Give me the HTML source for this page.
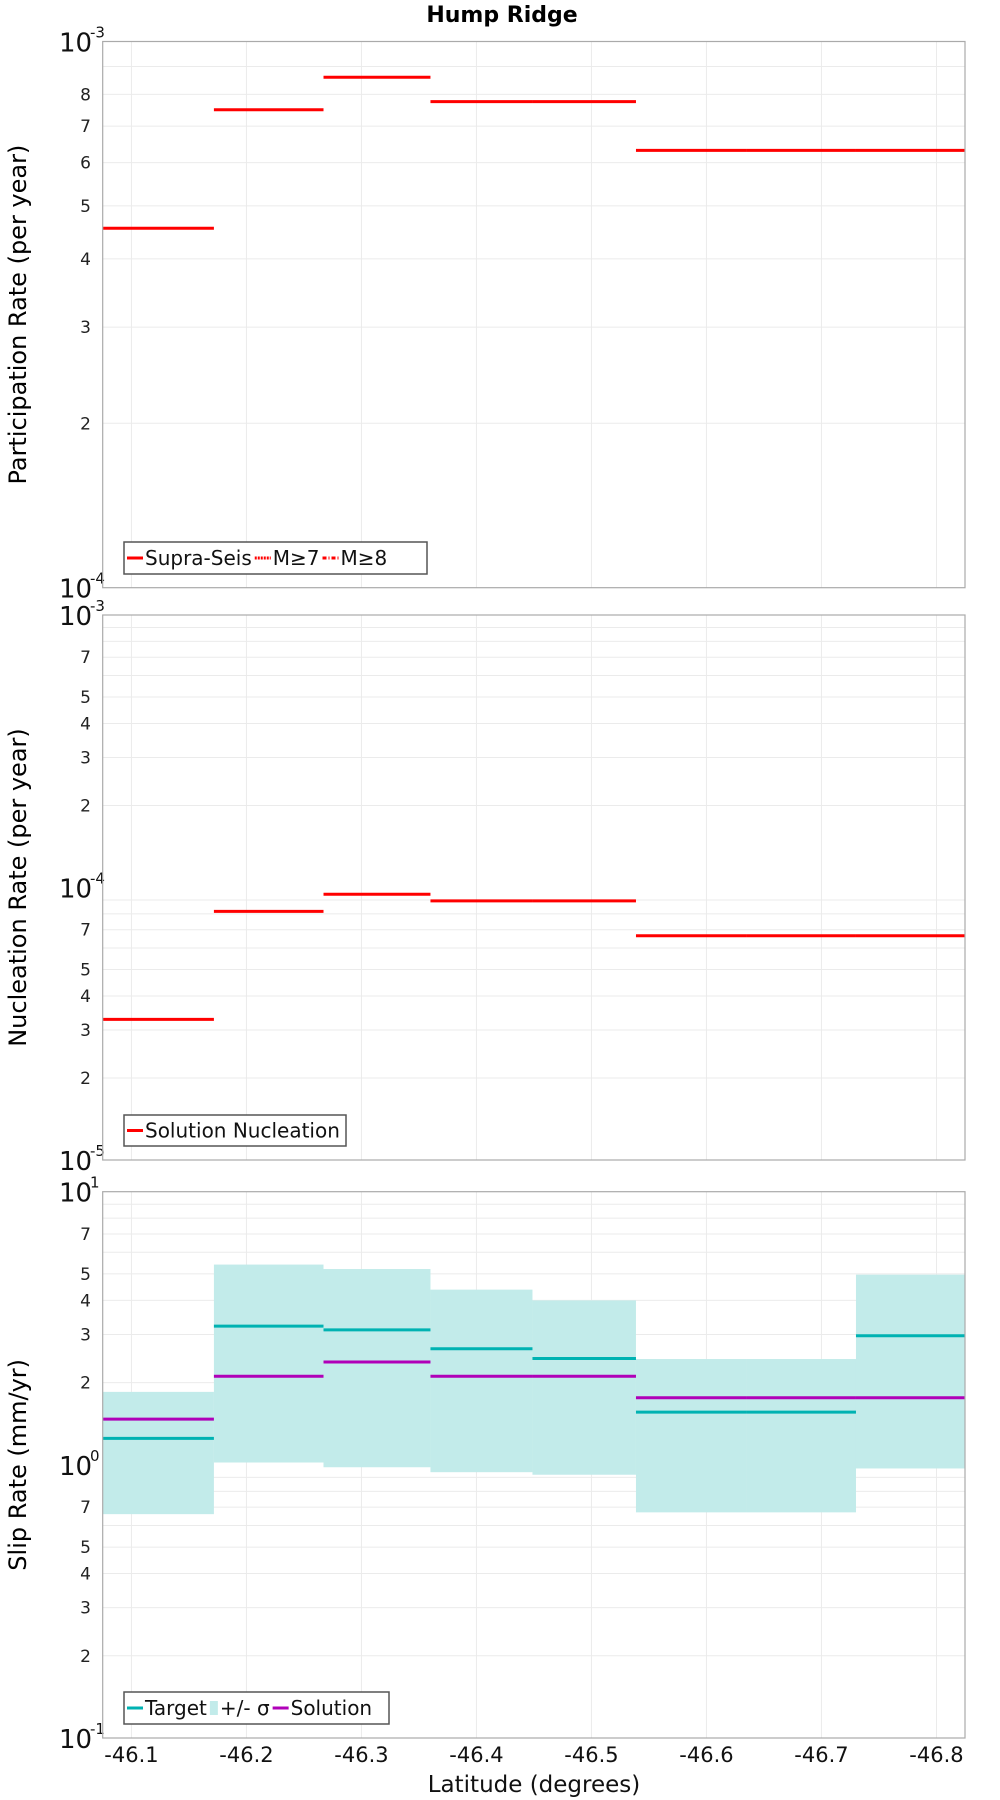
<!DOCTYPE html>
<html><head><meta charset="utf-8"><style>
body{margin:0;background:#fff}
svg{display:block;font-family:"DejaVu Sans","Liberation Sans",sans-serif}
</style></head><body>
<svg id="c" width="1000" height="1800" viewBox="0 0 1000 1800">
<text x="502" y="22" text-anchor="middle" font-weight="bold" font-size="22">Hump Ridge</text>
</svg>
<script>
const latBounds=[-46.075,-46.1717,-46.267,-46.36,-46.4487,-46.5387,-46.6352,-46.730,-46.8248];
const xTicks=[-46.1,-46.2,-46.3,-46.4,-46.5,-46.6,-46.7,-46.8];
const partRate=[4.55e-4,7.5e-4,8.6e-4,7.76e-4,7.76e-4,6.32e-4,6.32e-4,6.32e-4];
const nuclRate=[3.28e-5,8.17e-5,9.45e-5,8.93e-5,8.93e-5,6.65e-5,6.65e-5,6.65e-5];
const slipTarget=[1.25,3.22,3.12,2.66,2.45,1.56,1.56,2.97];
const slipSolution=[1.47,2.11,2.38,2.11,2.11,1.76,1.76,1.76];
const slipLow=[0.66,1.02,0.98,0.94,0.92,0.67,0.67,0.97];
const slipHigh=[1.85,5.41,5.21,4.38,4.0,2.44,2.44,4.97];

const svg=document.getElementById('c');
const NS='http://www.w3.org/2000/svg';
function mk(tag,attrs,parent){const e=document.createElementNS(NS,tag);for(const k in attrs)e.setAttribute(k,attrs[k]);(parent||svg).appendChild(e);return e;}
const L=102.7,R=965;
const xLeft=latBounds[0],xRight=latBounds[latBounds.length-1];
function xs(v){return L+(v-xLeft)/(xRight-xLeft)*(R-L);}

function panel(name,top,bot,minExp,maxExp,labelDigits,title){
  const ys=v=>top+(maxExp-Math.log10(v))/(maxExp-minExp)*(bot-top);
  const g=mk('g',{});
  
  
  for(let e=minExp;e<maxExp;e++){
    for(let m=1;m<=9;m++){
      const y=ys(m*Math.pow(10,e));
      if(m>1){const gl=mk('line',{x1:L,x2:R,y1:y,y2:y,stroke:'#ebebeb','stroke-width':1},g);
      
      }
      if(m>1&&labelDigits.includes(m)){const t=mk('text',{x:91,y:y+6,'text-anchor':'end','font-size':17,fill:'#222'},g);t.textContent=m;
      
      }
    }
  }
  for(const xv of xTicks){const x=xs(xv);const gl=mk('line',{x1:x,x2:x,y1:top,y2:bot,stroke:'#ebebeb','stroke-width':1},g);
    
    }
  for(let e=minExp;e<=maxExp;e++){
    const y=ys(Math.pow(10,e));
    const t=mk('text',{x:59,y:y+10,'font-size':26,fill:'#111'},g);
    t.textContent='10';
    
    
    const s=mk('text',{x:90,y:y-4,'font-size':15,fill:'#111'},g);s.textContent=String(e);
    
    
  }
  const cy=(top+bot)/2;
  const tt=mk('text',{x:0,y:0,'font-size':24,'text-anchor':'middle',transform:`translate(26,${cy}) rotate(-90)`},g);
  tt.textContent=title;
  
  
  return {g,ys,frame:()=>{const f=mk('rect',{x:L,y:top,width:R-L,height:bot-top,fill:'none',stroke:'#aaa','stroke-width':1.2},g);
    
    }};
}
function steps(p,vals,color,name){
  for(let i=0;i<vals.length;i++){
    const y=p.ys(vals[i]);
    const l=mk('line',{x1:xs(latBounds[i]),x2:xs(latBounds[i+1]),y1:y,y2:y,stroke:color,'stroke-width':3},p.g);
    
    
  }
}
function legend(p,x,y,w,h,items){
  const lg=mk('g',{},p.g);
  
  
  const r=mk('rect',{x:x,y:y,width:w,height:h,fill:'#fff',stroke:'#555','stroke-width':1.5},lg);
  
  
  let cx=x+3;
  for(const it of items){
    if(it.box){const b=mk('rect',{x:cx,y:y+h/2-7,width:8,height:14,fill:it.color},lg);cx+=10;}
    else{const s=mk('line',{x1:cx,x2:cx+16,y1:y+h/2,y2:y+h/2,stroke:it.color,'stroke-width':3,'stroke-dasharray':it.dash||'none'},lg);cx+=18;}
    const t=mk('text',{x:cx,y:y+h/2+7,'font-size':20,fill:'#111'},lg);t.textContent=it.label;
    
    
    cx+=t.getComputedTextLength()+3;
  }
}
const p1=panel('participation',41.5,587.7,-4,-3,[2,3,4,5,6,7,8],'Participation Rate (per year)');
steps(p1,partRate,'#ff0000','participation-rate');
p1.frame();
legend(p1,124,542,303,32,[{label:'Supra-Seis',color:'#f00'},{label:'M≥7',color:'#f00',dash:'2,1'},{label:'M≥8',color:'#f00',dash:'4,2,1,2'}]);
const p2=panel('nucleation',615,1160,-5,-3,[2,3,4,5,7],'Nucleation Rate (per year)');
steps(p2,nuclRate,'#ff0000','nucleation-rate');
p2.frame();
legend(p2,124,1115,222,31,[{label:'Solution Nucleation',color:'#f00'}]);
const p3=panel('slip-rate',1191.7,1738,-1,1,[2,3,4,5,7],'Slip Rate (mm/yr)');
for(let i=0;i<slipLow.length;i++){
  const y1=p3.ys(slipHigh[i]),y2=p3.ys(slipLow[i]);
  const r=mk('rect',{x:xs(latBounds[i]),y:y1,width:xs(latBounds[i+1])-xs(latBounds[i]),height:y2-y1,fill:'#c2ebea'},p3.g);
  
  
}
steps(p3,slipTarget,'#00b2b2','target-slip');
steps(p3,slipSolution,'#b000b8','solution-slip');
p3.frame();
legend(p3,124,1692,265,32,[{label:'Target',color:'#00b2b2'},{label:'+/- σ',color:'#c2ebea',box:true},{label:'Solution',color:'#b000b8'}]);
for(const xv of xTicks){
  const t=mk('text',{x:xs(xv),y:1762,'text-anchor':'middle','font-size':21,fill:'#111'});
  t.textContent=xv.toFixed(1);
  
  
}
const xt=mk('text',{x:534,y:1792,'text-anchor':'middle','font-size':23,fill:'#111'});
xt.textContent='Latitude (degrees)';


</script>
</body></html>
